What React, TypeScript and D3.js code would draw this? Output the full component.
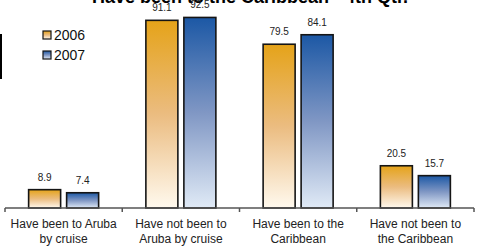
import React, { useEffect, useRef } from "react";
import * as d3 from "d3";

const categories = ["Have been to Aruba by cruise", "Have not been to Aruba by cruise", "Have been to the Caribbean", "Have not been to the Caribbean"];
const categoryLines = [
  ["Have been to Aruba", "by cruise"],
  ["Have not been to", "Aruba by cruise"],
  ["Have been to the", "Caribbean"],
  ["Have not been to", "the Caribbean"],
];
const seriesNames = ["2006", "2007"];
const values2006 = [8.9, 91.1, 79.5, 20.5];
const values2007 = [7.4, 92.5, 84.1, 15.7];
const title = "Have been to the Caribbean - 4th Qtr.";

const App = () => {
  const svgRef = useRef<SVGSVGElement>(null);

  useEffect(() => {
    const width = 479;
    const height = 249;
    const font = "Arial, 'Liberation Sans', sans-serif";

    const svg = d3.select(svgRef.current);
    svg.selectAll("*").remove();
    svg.attr("width", width).attr("height", height);

    // gradients, one per series
    const defs = svg.append("defs");
    const grads = [
      { id: "g2006", stops: ["#E5A319", "#EBBC80", "#FFF9EE"] },
      { id: "g2007", stops: ["#1C58A5", "#8097C4", "#E0EAF6"] },
    ];
    grads.forEach((g) => {
      const lg = defs.append("linearGradient").attr("id", g.id).attr("x1", 0).attr("y1", 0).attr("x2", 0).attr("y2", 1);
      g.stops.forEach((c, i) => lg.append("stop").attr("offset", i / 2).attr("stop-color", c));
    });

    const x = d3.scaleBand().domain(categories).range([5, 474]).padding(0);
    const sub = d3.scaleBand().domain(seriesNames).range([-35, 35]).paddingInner(6 / 38);
    const y = d3.scaleLinear().domain([0, 100]).range([208, 2]);

    const rows = categories.flatMap((c, i) => [
      { cat: c, series: "2006", value: values2006[i] },
      { cat: c, series: "2007", value: values2007[i] },
    ]);

    // title (cut at top)
    svg
      .append("text")
      .attr("x", 250)
      .attr("y", 3)
      .attr("text-anchor", "middle")
      .style("font-family", font)
      .style("font-weight", "bold")
      .style("font-size", "18px")
      .style("fill", "#000")
      .text(title);

    // left edge line
    svg.append("line").attr("x1", 1).attr("x2", 1).attr("y1", 34).attr("y2", 79).attr("stroke", "#000").attr("stroke-width", 2);

    // bars
    svg
      .selectAll("rect.bar")
      .data(rows)
      .enter()
      .append("rect")
      .attr("class", "bar")
      .attr("x", (d) => x(d.cat)! + x.bandwidth() / 2 + sub(d.series)!)
      .attr("y", (d) => y(d.value))
      .attr("width", sub.bandwidth())
      .attr("height", (d) => y(0) - y(d.value))
      .attr("fill", (d) => `url(#g${d.series})`)
      .attr("stroke", "#151515")
      .attr("stroke-width", 1.6);

    // value labels
    svg
      .selectAll("text.val")
      .data(rows)
      .enter()
      .append("text")
      .attr("class", "val")
      .attr("x", (d) => x(d.cat)! + x.bandwidth() / 2 + sub(d.series)! + sub.bandwidth() / 2)
      .attr("y", (d) => y(d.value) - 9)
      .attr("text-anchor", "middle")
      .style("font-family", font)
      .style("font-size", "10px")
      .style("fill", "#222")
      .text((d) => d.value.toFixed(1));

    // x axis
    const axis = svg
      .append("g")
      .attr("transform", `translate(0,208)`)
      .call(d3.axisBottom(x).tickSize(0).tickFormat(() => ""));
    axis.select(".domain").attr("stroke", "#555").attr("stroke-width", 1.5).attr("d", "M5,0H474");
    axis
      .selectAll("line.edge")
      .data(d3.range(categories.length + 1))
      .enter()
      .append("line")
      .attr("class", "edge")
      .attr("x1", (i) => 5 + i * x.step())
      .attr("x2", (i) => 5 + i * x.step())
      .attr("y1", 0)
      .attr("y2", 4)
      .attr("stroke", "#555")
      .attr("stroke-width", 1.5);

    // category labels
    categories.forEach((c, i) => {
      categoryLines[i].forEach((line, j) => {
        svg
          .append("text")
          .attr("x", x(c)! + x.bandwidth() / 2)
          .attr("y", 228 + j * 15)
          .attr("text-anchor", "middle")
          .style("font-family", font)
          .style("font-size", "12px")
          .style("fill", "#222")
          .text(line);
      });
    });

    // legend
    const legend = svg.append("g").attr("transform", "translate(43,31)");
    seriesNames.forEach((s, i) => {
      legend
        .append("rect")
        .attr("x", 0)
        .attr("y", i * 20)
        .attr("width", 8)
        .attr("height", 8)
        .attr("fill", `url(#g${s})`)
        .attr("stroke", "#151515")
        .attr("stroke-width", 1.2);
      legend
        .append("text")
        .attr("x", 11)
        .attr("y", i * 20 + 9)
        .style("font-family", font)
        .style("font-size", "14px")
        .style("fill", "#111")
        .text(s);
    });
  }, []);

  return <svg ref={svgRef} style={{ position: "absolute", left: 0, top: 0, display: "block" }}></svg>;
};

export default App;
